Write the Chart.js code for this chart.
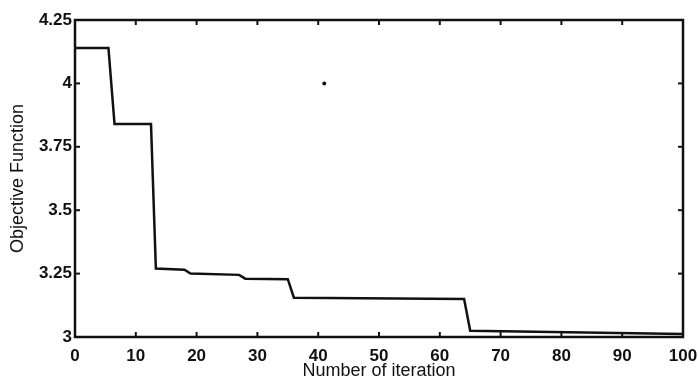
<!DOCTYPE html>
<html>
<head>
<meta charset="utf-8">
<script src="https://cdn.jsdelivr.net/npm/chart.js@4"></script>
<style>
  body { margin: 0; background: #fff; }
  #wrap { width: 698px; height: 382px; }
</style>
</head>
<body>
<div id="wrap"><canvas id="objChart" width="698" height="382"></canvas></div>
<script>
// values
const iterations = [0, 5.5, 6.5, 12.5, 13.3, 18, 19, 27, 28, 35, 36, 64, 65, 100];
const objective = [4.14, 4.14, 3.84, 3.84, 3.27, 3.265, 3.25, 3.245, 3.23, 3.228, 3.155, 3.15, 3.025, 3.012];
const speckX = [41];
const speckY = [4.0];
const xTicks = [0, 10, 20, 30, 40, 50, 60, 70, 80, 90, 100];
const yTicks = [3, 3.25, 3.5, 3.75, 4, 4.25];
const yTickLabels = ["3", "3.25", "3.5", "3.75", "4", "4.25"];

Chart.defaults.font.family = "'Liberation Sans', Arial, sans-serif";
Chart.defaults.color = "#111";

// box around the axes with inward ticks, matlab style
const frame = {
  id: "frame",
  afterDatasetsDraw(chart) {
    const { ctx, chartArea: a, scales } = chart;
    const x = scales.x, y = scales.y;
    ctx.save();
    ctx.strokeStyle = "#111";
    ctx.lineWidth = 2.5;
    ctx.strokeRect(a.left, a.top, a.right - a.left, a.bottom - a.top);
    ctx.lineWidth = 2;
    const seg = (x1, y1, x2, y2) => {
      ctx.beginPath();
      ctx.moveTo(x1, y1);
      ctx.lineTo(x2, y2);
      ctx.stroke();
    };
    x.ticks.forEach(t => {
      const px = x.getPixelForValue(t.value);
      seg(px, a.bottom, px, a.bottom - 5);
      seg(px, a.top, px, a.top + 5);
    });
    y.ticks.forEach(t => {
      const py = y.getPixelForValue(t.value);
      seg(a.left, py, a.left + 5, py);
      seg(a.right, py, a.right - 5, py);
    });
    ctx.restore();
  }
};

const ctx = document.getElementById("objChart").getContext("2d");
new Chart(ctx, {
  type: "line",
  data: {
    datasets: [
      {
        data: iterations.map((v, i) => ({ x: v, y: objective[i] })),
        borderColor: "#111",
        borderWidth: 2.5,
        pointRadius: 0,
        tension: 0
      },
      {
        data: speckX.map((v, i) => ({ x: v, y: speckY[i] })),
        showLine: false,
        pointRadius: 2,
        pointBackgroundColor: "#111",
        pointBorderWidth: 0
      }
    ]
  },
  plugins: [frame],
  options: {
    responsive: false,
    animation: false,
    layout: { padding: { top: 20, right: 15, left: 0, bottom: 0 } },
    plugins: { legend: { display: false }, tooltip: { enabled: false } },
    scales: {
      x: {
        type: "linear",
        min: 0,
        max: 100,
        afterBuildTicks: s => { s.ticks = xTicks.map(v => ({ value: v })); },
        afterFit: s => { s.height = 45; s.paddingLeft = 0; s.paddingRight = 0; },
        grid: { display: false, drawTicks: false },
        border: { display: false },
        ticks: { padding: 9, font: { size: 17, weight: "bold" } },
        title: {
          display: true,
          text: "Number of iteration",
          font: { size: 18 },
          padding: { top: 0, bottom: 0 }
        }
      },
      y: {
        min: 3,
        max: 4.25,
        afterBuildTicks: s => { s.ticks = yTicks.map(v => ({ value: v })); },
        afterFit: s => { s.width = 75; s.paddingTop = 0; s.paddingBottom = 0; },
        grid: { display: false, drawTicks: false },
        border: { display: false },
        ticks: {
          padding: 3,
          font: { size: 17, weight: "bold" },
          callback: (v) => yTickLabels[yTicks.indexOf(v)]
        },
        title: {
          display: true,
          text: "Objective Function",
          font: { size: 18 },
          padding: { top: 7, bottom: 0 }
        }
      }
    }
  }
});
</script>
</body>
</html>
